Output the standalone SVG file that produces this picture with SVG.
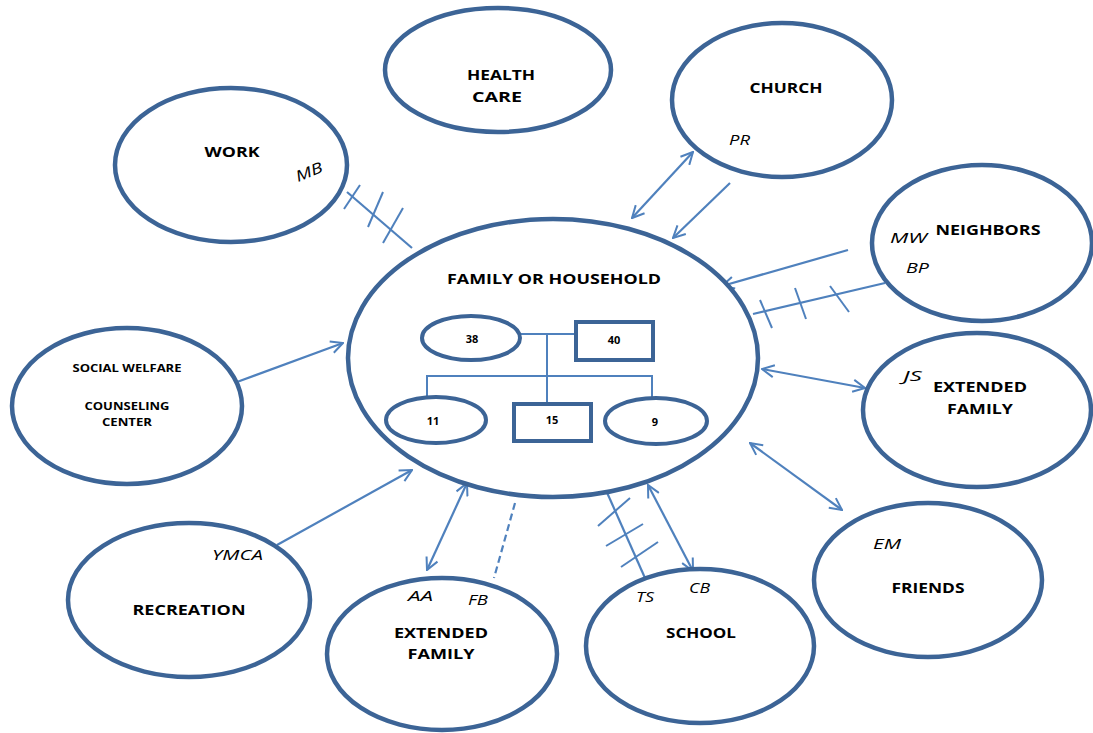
<svg xmlns="http://www.w3.org/2000/svg" width="1093" height="733" viewBox="0 0 1093 733">
<defs>
<style>
.node{fill:#fff;stroke:#3C6496;stroke-width:4.5}
.inner{fill:#fff;stroke:#3C6496;stroke-width:4}
.conn{fill:none;stroke:#4F81BD;stroke-width:2.2}
.thin{fill:none;stroke:#4F81BD;stroke-width:2}
.lbl{font-family:"Open Sans","DejaVu Sans",sans-serif;font-weight:bold;font-size:14px;fill:#000;text-anchor:middle}
.sm{font-size:10.5px}
.num{font-family:"Open Sans","DejaVu Sans",sans-serif;font-weight:bold;font-size:11px;fill:#000;text-anchor:middle}
.it{font-family:"Open Sans","DejaVu Sans",sans-serif;font-style:italic;font-size:15px;fill:#000}
</style>
<marker id="ah" viewBox="0 0 14 14" refX="13" refY="7" markerWidth="14" markerHeight="14" markerUnits="userSpaceOnUse" orient="auto-start-reverse">
<path d="M1,1 L13,7 L1,13" fill="none" stroke="#4F81BD" stroke-width="2"/>
</marker>
</defs>
<rect width="1093" height="733" fill="#fff"/>

<g id="connectors">
<line class="conn" x1="237" y1="382" x2="343" y2="343" marker-end="url(#ah)"/>
<line class="conn" x1="277" y1="545" x2="412" y2="470" marker-end="url(#ah)"/>
<line class="conn" x1="467" y1="483" x2="427" y2="570" marker-start="url(#ah)" marker-end="url(#ah)"/>
<line class="conn" x1="515" y1="503" x2="494" y2="578" stroke-dasharray="7,4"/>
<line class="conn" x1="648" y1="485" x2="693" y2="571" marker-start="url(#ah)" marker-end="url(#ah)"/>
<g id="school-stress">
<line class="conn" x1="605" y1="488" x2="645" y2="578"/>
<line class="thin" x1="630" y1="498" x2="598" y2="526"/>
<line class="thin" x1="643" y1="524" x2="606" y2="546"/>
<line class="thin" x1="658" y1="542" x2="621" y2="567"/>
</g>
<line class="conn" x1="750" y1="443" x2="842" y2="510" marker-start="url(#ah)" marker-end="url(#ah)"/>
<line class="conn" x1="762" y1="369" x2="865" y2="388" marker-start="url(#ah)" marker-end="url(#ah)"/>
<line class="conn" x1="848" y1="250" x2="722" y2="286" marker-end="url(#ah)"/>
<g id="neighbors-stress">
<line class="conn" x1="885" y1="283" x2="753" y2="314"/>
<line class="thin" x1="760" y1="300" x2="772" y2="328"/>
<line class="thin" x1="795" y1="288" x2="806" y2="319"/>
<line class="thin" x1="830" y1="286" x2="849" y2="312"/>
</g>
<line class="conn" x1="730" y1="183" x2="673" y2="238" marker-end="url(#ah)"/>
<line class="conn" x1="632" y1="218" x2="693" y2="152" marker-start="url(#ah)" marker-end="url(#ah)"/>
<g id="work-stress">
<line class="conn" x1="347" y1="192" x2="412" y2="248"/>
<line class="thin" x1="360" y1="185" x2="344" y2="209"/>
<line class="thin" x1="383" y1="192" x2="368" y2="227"/>
<line class="thin" x1="403" y1="208" x2="383" y2="243"/>
</g>
</g>

<g id="family">
<ellipse class="node" cx="553" cy="358" rx="205" ry="139"/>
<text class="lbl" x="554" y="284" textLength="214" lengthAdjust="spacingAndGlyphs">FAMILY OR HOUSEHOLD</text>
<g id="genogram-lines">
<polyline class="thin" points="520,334 575,334"/>
<polyline class="thin" points="547,334 547,403"/>
<polyline class="thin" points="427,397 427,376 652,376 652,397"/>
</g>
<g id="p38"><ellipse class="inner" cx="471" cy="338" rx="49" ry="22"/><text class="num" x="472" y="343">38</text></g>
<g id="p40"><rect class="inner" x="576" y="322" width="77" height="38"/><text class="num" x="614" y="344">40</text></g>
<g id="p11"><ellipse class="inner" cx="436" cy="420" rx="50" ry="23"/><text class="num" x="433" y="425">11</text></g>
<g id="p15"><rect class="inner" x="514" y="404" width="77" height="37"/><text class="num" x="552" y="424">15</text></g>
<g id="p9"><ellipse class="inner" cx="656" cy="421" rx="51" ry="23"/><text class="num" x="655" y="426">9</text></g>
</g>

<g id="work">
<ellipse class="node" cx="231" cy="165" rx="116" ry="77"/>
<text class="lbl" x="232" y="157" textLength="55" lengthAdjust="spacingAndGlyphs">WORK</text>
<text class="it" x="309" y="177" text-anchor="middle" textLength="28" lengthAdjust="spacingAndGlyphs" transform="rotate(-22 309 172)">MB</text>
</g>

<g id="health">
<ellipse class="node" cx="498" cy="70" rx="113" ry="62"/>
<text class="lbl" x="501" y="80" textLength="68" lengthAdjust="spacingAndGlyphs">HEALTH</text>
<text class="lbl" x="497" y="102" textLength="50" lengthAdjust="spacingAndGlyphs">CARE</text>
</g>

<g id="church">
<ellipse class="node" cx="782" cy="100" rx="110" ry="77"/>
<text class="lbl" x="786" y="93" textLength="73" lengthAdjust="spacingAndGlyphs">CHURCH</text>
<text class="it" x="729" y="145" textLength="21" lengthAdjust="spacingAndGlyphs">PR</text>
</g>

<g id="neighbors">
<ellipse class="node" cx="982" cy="243" rx="110" ry="78"/>
<text class="lbl" x="988" y="235" textLength="105" lengthAdjust="spacingAndGlyphs">NEIGHBORS</text>
<text class="it" x="890" y="243" textLength="37" lengthAdjust="spacingAndGlyphs">MW</text>
<text class="it" x="906" y="273" textLength="23" lengthAdjust="spacingAndGlyphs">BP</text>
</g>

<g id="extended-right">
<ellipse class="node" cx="977" cy="410" rx="114" ry="77"/>
<text class="it" x="903" y="381" textLength="19" lengthAdjust="spacingAndGlyphs">JS</text>
<text class="lbl" x="980" y="392" textLength="94" lengthAdjust="spacingAndGlyphs">EXTENDED</text>
<text class="lbl" x="980" y="414" textLength="66" lengthAdjust="spacingAndGlyphs">FAMILY</text>
</g>

<g id="friends">
<ellipse class="node" cx="928" cy="580" rx="114" ry="77"/>
<text class="it" x="873" y="549" textLength="28" lengthAdjust="spacingAndGlyphs">EM</text>
<text class="lbl" x="928" y="593" textLength="73" lengthAdjust="spacingAndGlyphs">FRIENDS</text>
</g>

<g id="school">
<ellipse class="node" cx="700" cy="646" rx="114" ry="77"/>
<text class="it" x="636" y="602" textLength="18" lengthAdjust="spacingAndGlyphs">TS</text>
<text class="it" x="689" y="593" textLength="21" lengthAdjust="spacingAndGlyphs">CB</text>
<text class="lbl" x="701" y="638" textLength="70" lengthAdjust="spacingAndGlyphs">SCHOOL</text>
</g>

<g id="extended-bottom">
<ellipse class="node" cx="442" cy="654" rx="115" ry="76"/>
<text class="it" x="408" y="601" textLength="25" lengthAdjust="spacingAndGlyphs">AA</text>
<text class="it" x="468" y="605" textLength="20" lengthAdjust="spacingAndGlyphs">FB</text>
<text class="lbl" x="441" y="638" textLength="94" lengthAdjust="spacingAndGlyphs">EXTENDED</text>
<text class="lbl" x="441" y="659" textLength="67" lengthAdjust="spacingAndGlyphs">FAMILY</text>
</g>

<g id="recreation">
<ellipse class="node" cx="189" cy="600" rx="121" ry="77"/>
<text class="it" x="212" y="560" textLength="51" lengthAdjust="spacingAndGlyphs">YMCA</text>
<text class="lbl" x="189" y="615" textLength="113" lengthAdjust="spacingAndGlyphs">RECREATION</text>
</g>

<g id="social">
<ellipse class="node" cx="127" cy="406" rx="115" ry="78"/>
<text class="lbl sm" x="127" y="372" textLength="109" lengthAdjust="spacingAndGlyphs">SOCIAL WELFARE</text>
<text class="lbl sm" x="127" y="410" textLength="85" lengthAdjust="spacingAndGlyphs">COUNSELING</text>
<text class="lbl sm" x="127" y="426" textLength="50" lengthAdjust="spacingAndGlyphs">CENTER</text>
</g>
</svg>
